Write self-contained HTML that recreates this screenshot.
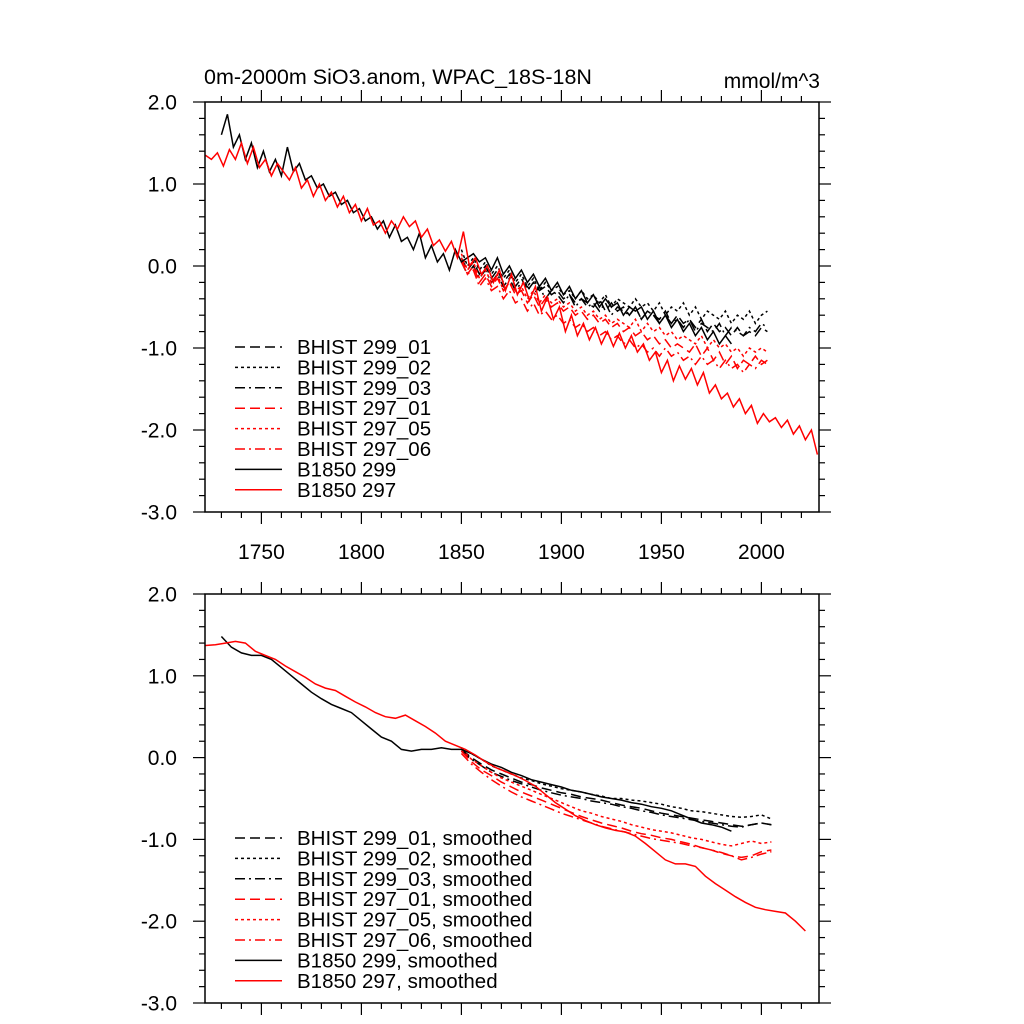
<!DOCTYPE html>
<html><head><meta charset="utf-8"><style>
body{margin:0;background:#fff}
svg{display:block;font-family:"Liberation Sans",sans-serif}
</style></head><body>
<svg id="chart" width="1024" height="1024" xmlns="http://www.w3.org/2000/svg">
<text x="204" y="84" font-size="21.5">0m-2000m SiO3.anom, WPAC_18S-18N</text>
<text x="820" y="88" font-size="21" text-anchor="end">mmol/m^3</text>
</svg>
<script>
// ---- data ----
const yTicks = [2.0, 1.0, 0.0, -1.0, -2.0, -3.0];
const xTicks = [1750, 1800, 1850, 1900, 1950, 2000];
const rawB297Start = 1722, rawB297Step = 3;
const rawB297 = [1.35,1.3,1.38,1.22,1.42,1.3,1.5,1.25,1.45,1.2,1.3,1.1,1.25,1.15,1.05,1.2,0.95,1.05,0.85,1.0,0.8,0.9,0.72,0.85,0.65,0.75,0.55,0.7,0.5,0.55,0.4,0.55,0.45,0.6,0.48,0.55,0.35,0.45,0.25,0.32,0.18,0.3,0.1,0.42,0.0,0.1,-0.1,0.0,-0.2,-0.05,-0.3,-0.1,-0.35,-0.2,-0.42,-0.25,-0.55,-0.38,-0.65,-0.5,-0.8,-0.6,-0.85,-0.7,-0.9,-0.75,-0.95,-0.8,-0.98,-0.82,-1.0,-0.85,-1.05,-0.95,-1.15,-1.05,-1.3,-1.15,-1.4,-1.22,-1.38,-1.25,-1.45,-1.3,-1.55,-1.45,-1.62,-1.55,-1.72,-1.62,-1.8,-1.7,-1.92,-1.8,-1.9,-1.85,-1.97,-1.88,-2.05,-1.95,-2.12,-2.0,-2.3];
const rawB299Start = 1730, rawB299Step = 3;
const rawB299 = [1.6,1.85,1.45,1.6,1.3,1.5,1.2,1.4,1.15,1.3,1.1,1.45,1.15,1.25,1.05,1.1,0.95,1.0,0.85,0.9,0.75,0.8,0.65,0.7,0.55,0.6,0.45,0.55,0.35,0.5,0.3,0.35,0.2,0.4,0.1,0.25,0.05,0.15,-0.05,0.2,0.05,0.1,0.15,0.05,0.1,-0.05,0.1,-0.1,0.0,-0.15,-0.05,-0.2,-0.1,-0.25,-0.15,-0.3,-0.2,-0.35,-0.25,-0.4,-0.3,-0.45,-0.35,-0.5,-0.4,-0.5,-0.45,-0.6,-0.5,-0.55,-0.5,-0.65,-0.55,-0.7,-0.6,-0.75,-0.65,-0.8,-0.7,-0.85,-0.75,-0.9,-0.8,-0.95,-0.85,-0.95];
const histStart = 1850, histStep = 3;
const h299_01 = [0.1,-0.05,0.05,-0.1,0.0,-0.15,-0.05,-0.2,-0.1,-0.25,-0.15,-0.3,-0.2,-0.3,-0.25,-0.35,-0.3,-0.4,-0.35,-0.45,-0.4,-0.45,-0.5,-0.4,-0.55,-0.45,-0.55,-0.5,-0.6,-0.5,-0.65,-0.55,-0.6,-0.65,-0.55,-0.7,-0.6,-0.7,-0.65,-0.75,-0.65,-0.8,-0.7,-0.8,-0.75,-0.85,-0.75,-0.85,-0.8,-0.85,-0.75,-0.8];
const h299_02 = [0.2,0.0,0.1,-0.05,0.05,-0.1,0.0,-0.15,-0.05,-0.2,-0.1,-0.25,-0.15,-0.3,-0.2,-0.3,-0.25,-0.35,-0.3,-0.4,-0.3,-0.4,-0.35,-0.45,-0.35,-0.5,-0.4,-0.45,-0.5,-0.4,-0.5,-0.45,-0.55,-0.45,-0.6,-0.5,-0.55,-0.45,-0.6,-0.5,-0.65,-0.55,-0.6,-0.65,-0.55,-0.7,-0.6,-0.65,-0.55,-0.7,-0.6,-0.55];
const h299_03 = [0.05,-0.1,0.0,-0.15,-0.05,-0.2,-0.1,-0.25,-0.15,-0.3,-0.2,-0.25,-0.35,-0.25,-0.4,-0.3,-0.35,-0.45,-0.35,-0.5,-0.4,-0.5,-0.45,-0.55,-0.45,-0.6,-0.5,-0.55,-0.6,-0.5,-0.65,-0.55,-0.6,-0.7,-0.6,-0.7,-0.65,-0.75,-0.65,-0.8,-0.7,-0.75,-0.8,-0.7,-0.85,-0.75,-0.8,-0.85,-0.75,-0.8,-0.7,-0.75];
const h297_01 = [0.1,-0.1,0.0,-0.2,-0.1,-0.25,-0.15,-0.3,-0.2,-0.35,-0.3,-0.45,-0.35,-0.5,-0.4,-0.5,-0.45,-0.55,-0.5,-0.6,-0.55,-0.65,-0.6,-0.7,-0.65,-0.75,-0.7,-0.8,-0.75,-0.85,-0.8,-0.9,-0.85,-0.95,-0.9,-1.0,-0.95,-1.0,-1.05,-0.95,-1.1,-1.0,-1.15,-1.05,-1.2,-1.1,-1.25,-1.15,-1.2,-1.1,-1.2,-1.15];
const h297_05 = [0.15,-0.05,0.05,-0.15,-0.05,-0.2,-0.1,-0.3,-0.2,-0.3,-0.25,-0.4,-0.3,-0.45,-0.35,-0.45,-0.4,-0.5,-0.45,-0.55,-0.5,-0.6,-0.55,-0.65,-0.6,-0.7,-0.65,-0.7,-0.75,-0.65,-0.8,-0.7,-0.8,-0.75,-0.85,-0.8,-0.9,-0.85,-0.9,-0.95,-0.85,-1.0,-0.9,-1.0,-0.95,-1.05,-1.0,-1.1,-1.0,-1.05,-1.0,-1.05];
const h297_06 = [0.05,-0.1,-0.05,-0.25,-0.15,-0.3,-0.25,-0.4,-0.3,-0.45,-0.4,-0.55,-0.45,-0.6,-0.55,-0.65,-0.6,-0.7,-0.65,-0.75,-0.7,-0.8,-0.75,-0.85,-0.8,-0.9,-0.85,-0.95,-0.9,-1.0,-0.95,-1.05,-1.0,-1.1,-1.0,-1.1,-1.05,-1.15,-1.1,-1.2,-1.1,-1.2,-1.15,-1.25,-1.15,-1.25,-1.2,-1.3,-1.2,-1.25,-1.15,-1.2];
const smB297Start = 1722, smStep = 5;
const smB297 = [1.37,1.38,1.4,1.42,1.4,1.3,1.25,1.2,1.12,1.05,0.98,0.9,0.85,0.82,0.75,0.68,0.62,0.55,0.5,0.48,0.52,0.45,0.38,0.3,0.2,0.15,0.1,0.03,-0.05,-0.12,-0.17,-0.22,-0.28,-0.35,-0.45,-0.55,-0.63,-0.71,-0.77,-0.82,-0.86,-0.89,-0.91,-0.96,-1.05,-1.15,-1.25,-1.3,-1.3,-1.33,-1.45,-1.54,-1.62,-1.7,-1.77,-1.83,-1.86,-1.88,-1.9,-2.0,-2.12];
const smB299Start = 1730;
const smB299 = [1.48,1.35,1.28,1.25,1.25,1.2,1.1,1.0,0.9,0.8,0.72,0.65,0.6,0.55,0.45,0.35,0.25,0.2,0.1,0.08,0.1,0.1,0.12,0.1,0.1,0.05,-0.02,-0.08,-0.12,-0.18,-0.22,-0.27,-0.3,-0.33,-0.36,-0.4,-0.42,-0.45,-0.48,-0.5,-0.52,-0.55,-0.57,-0.6,-0.62,-0.65,-0.7,-0.75,-0.8,-0.82,-0.85,-0.9];
const smHistStart = 1850;
const s299_01 = [0.1,0.0,-0.08,-0.15,-0.2,-0.25,-0.3,-0.33,-0.37,-0.4,-0.43,-0.45,-0.48,-0.5,-0.52,-0.55,-0.58,-0.6,-0.62,-0.65,-0.68,-0.7,-0.72,-0.74,-0.76,-0.78,-0.8,-0.82,-0.84,-0.82,-0.8,-0.82];
const s299_02 = [0.12,0.05,-0.02,-0.1,-0.15,-0.2,-0.25,-0.28,-0.32,-0.35,-0.38,-0.4,-0.42,-0.45,-0.47,-0.5,-0.5,-0.52,-0.53,-0.55,-0.57,-0.6,-0.62,-0.65,-0.66,-0.68,-0.7,-0.72,-0.73,-0.72,-0.7,-0.75];
const s299_03 = [0.08,-0.02,-0.1,-0.18,-0.23,-0.28,-0.32,-0.36,-0.4,-0.43,-0.46,-0.48,-0.5,-0.53,-0.55,-0.57,-0.6,-0.62,-0.65,-0.67,-0.7,-0.72,-0.74,-0.76,-0.78,-0.8,-0.82,-0.84,-0.85,-0.82,-0.8,-0.82];
const s297_01 = [0.08,-0.05,-0.15,-0.22,-0.3,-0.36,-0.42,-0.47,-0.52,-0.57,-0.62,-0.67,-0.72,-0.76,-0.8,-0.83,-0.86,-0.9,-0.93,-0.95,-0.98,-1.0,-1.03,-1.06,-1.1,-1.13,-1.17,-1.2,-1.22,-1.2,-1.15,-1.13];
const s297_05 = [0.1,-0.02,-0.1,-0.18,-0.25,-0.3,-0.35,-0.4,-0.45,-0.5,-0.55,-0.6,-0.65,-0.68,-0.72,-0.75,-0.78,-0.82,-0.85,-0.88,-0.9,-0.92,-0.95,-0.98,-1.0,-1.03,-1.06,-1.08,-1.05,-1.02,-1.05,-1.03];
const s297_06 = [0.05,-0.08,-0.18,-0.27,-0.35,-0.42,-0.48,-0.53,-0.58,-0.63,-0.68,-0.72,-0.76,-0.8,-0.84,-0.87,-0.9,-0.93,-0.96,-0.99,-1.01,-1.03,-1.05,-1.08,-1.1,-1.13,-1.16,-1.2,-1.25,-1.22,-1.18,-1.15];
const legendTop = ["BHIST 299_01","BHIST 299_02","BHIST 299_03","BHIST 297_01","BHIST 297_05","BHIST 297_06","B1850 299","B1850 297"];
const legendBot = ["BHIST 299_01, smoothed","BHIST 299_02, smoothed","BHIST 299_03, smoothed","BHIST 297_01, smoothed","BHIST 297_05, smoothed","BHIST 297_06, smoothed","B1850 299, smoothed","B1850 297, smoothed"];

// ---- layout ----
const NS = "http://www.w3.org/2000/svg";
const svg = document.getElementById('chart');
const X0 = 205, X1 = 819, XMIN = 1721.8, XMAX = 2028.8;
const sx = v => X0 + (v - XMIN) / (XMAX - XMIN) * (X1 - X0);
const styles = [
  {c:"#000", d:"10,5"}, {c:"#000", d:"3,3"}, {c:"#000", d:"10,4,2,4"},
  {c:"#f00", d:"10,5"}, {c:"#f00", d:"3,3"}, {c:"#f00", d:"10,4,2,4"},
  {c:"#000", d:""}, {c:"#f00", d:""}];

function el(tag, attrs, parent) {
  const e = document.createElementNS(NS, tag);
  for (const k in attrs) e.setAttribute(k, attrs[k]);
  parent.appendChild(e);
  return e;
}

function panel(name, Y0, Y1, series, legend, legendY, showXLabels) {
  const g = el('g', {}, svg);
  
  
  const sy = v => Y0 + (2 - v) / 5 * (Y1 - Y0);
  const clipId = name + '-clip';
  const cp = el('clipPath', {id: clipId}, g);
  el('rect', {x: X0, y: Y0, width: X1 - X0, height: Y1 - Y0}, cp);
  series.forEach((s, i) => {
    const pts = s.vals.map((v, j) => sx(s.start + j * s.step).toFixed(1) + ',' + sy(v).toFixed(1)).join(' ');
    const p = el('polyline', {points: pts, fill: 'none', stroke: styles[i].c, 'stroke-width': 1.5, 'stroke-dasharray': styles[i].d, 'clip-path': 'url(#' + clipId + ')'}, g);
    
    
  });
  const fr = el('rect', {x: X0, y: Y0, width: X1 - X0, height: Y1 - Y0, fill: 'none', stroke: '#000', 'stroke-width': 1.5}, g);
  
  
  for (let yr = 1730; yr <= 2020; yr += 10) {
    const x = sx(yr), L = yr % 50 === 0 ? 12 : 6;
    el('line', {x1: x, x2: x, y1: Y1, y2: Y1 + L, stroke: '#000', 'stroke-width': 1.2}, g);
    el('line', {x1: x, x2: x, y1: Y0, y2: Y0 - L, stroke: '#000', 'stroke-width': 1.2}, g);
  }
  if (showXLabels) xTicks.forEach(t => {
    const tx = el('text', {x: sx(t), y: Y1 + 47, 'font-size': 21, 'text-anchor': 'middle'}, g);
    tx.textContent = t;
    
    
  });
  for (let k = 0; k <= 25; k++) {
    const v = 2 - k * 0.2, y = sy(v), L = k % 5 === 0 ? 12 : 6;
    el('line', {x1: X0 - L, x2: X0, y1: y, y2: y, stroke: '#000', 'stroke-width': 1.2}, g);
    el('line', {x1: X1, x2: X1 + L, y1: y, y2: y, stroke: '#000', 'stroke-width': 1.2}, g);
  }
  yTicks.forEach(t => {
    const ty = el('text', {x: 177, y: sy(t) + 7.5, 'font-size': 21, 'text-anchor': 'end'}, g);
    ty.textContent = t.toFixed(1);
    
    
  });
  legend.forEach((lab, i) => {
    const y = legendY + i * 20.4;
    const lg = el('g', {}, g);
    
    
    el('line', {x1: 235, x2: 282, y1: y, y2: y, stroke: styles[i].c, 'stroke-width': 1.5, 'stroke-dasharray': styles[i].d}, lg);
    const t = el('text', {x: 297, y: y + 7, 'font-size': 20.5}, lg);
    t.textContent = lab;
  });
}

panel('top-panel', 102, 512, [
  {start: histStart, step: histStep, vals: h299_01},
  {start: histStart, step: histStep, vals: h299_02},
  {start: histStart, step: histStep, vals: h299_03},
  {start: histStart, step: histStep, vals: h297_01},
  {start: histStart, step: histStep, vals: h297_05},
  {start: histStart, step: histStep, vals: h297_06},
  {start: rawB299Start, step: rawB299Step, vals: rawB299},
  {start: rawB297Start, step: rawB297Step, vals: rawB297}
], legendTop, 347, true);

panel('bottom-panel', 594, 1003, [
  {start: smHistStart, step: smStep, vals: s299_01},
  {start: smHistStart, step: smStep, vals: s299_02},
  {start: smHistStart, step: smStep, vals: s299_03},
  {start: smHistStart, step: smStep, vals: s297_01},
  {start: smHistStart, step: smStep, vals: s297_05},
  {start: smHistStart, step: smStep, vals: s297_06},
  {start: smB299Start, step: smStep, vals: smB299},
  {start: smB297Start, step: smStep, vals: smB297}
], legendBot, 838, false);
</script>
</body></html>
